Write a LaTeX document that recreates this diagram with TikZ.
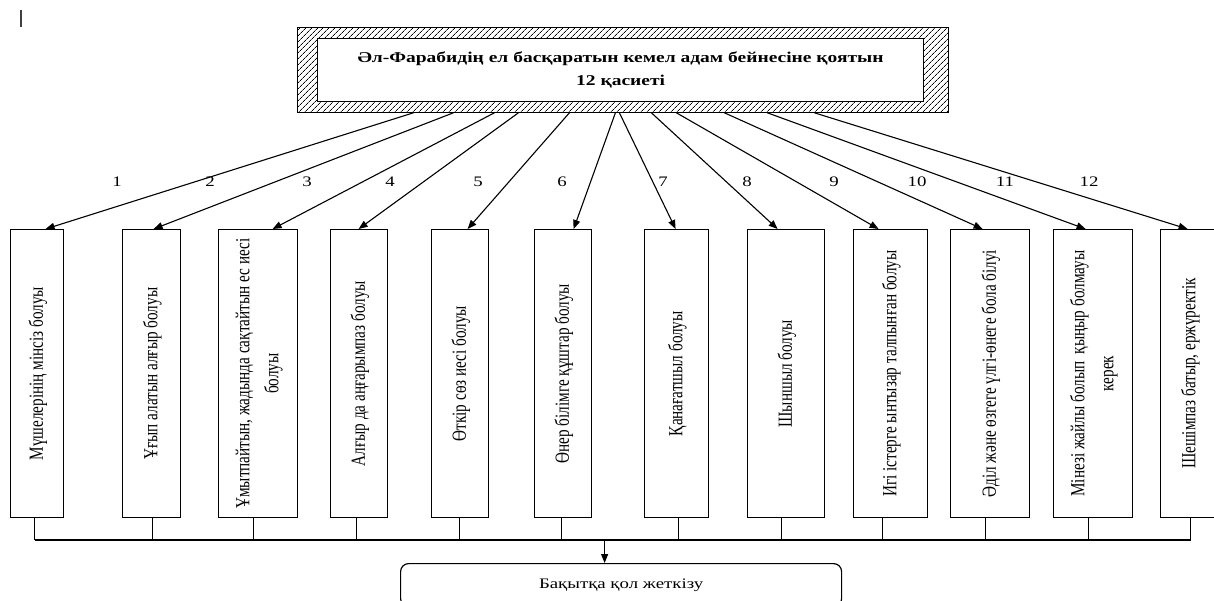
\documentclass[tikz,border=0pt]{standalone}
\usepackage{fontspec}
\usepackage{graphicx}
\setmainfont[FakeStretch=1.3]{Liberation Serif}
\newfontfamily\vfont[FakeStretch=0.76]{Liberation Serif}
\usetikzlibrary{patterns.meta,arrows.meta}
\newcommand\vtxt[1]{\rotatebox{90}{\vfont\fontsize{20}{29}\selectfont\begin{tabular}{@{}c@{}}#1\end{tabular}}}
\begin{document}
\begin{tikzpicture}[x=1pt,y=-1pt,
  vbox/.style={draw, line width=1.2pt, minimum height=288pt, inner sep=0pt, anchor=north west},
  arr/.style={line width=1.1pt, -{Triangle[length=9pt,width=7pt]}},
  num/.style={font=\fontsize{14.5}{16}\selectfont, inner sep=0pt},
  link/.style={line width=1.2pt}]
\useasboundingbox (0,0) rectangle (1214,600);
\clip (0,0) rectangle (1214,600);

% small mark top-left
\draw[line width=1.5pt, black!75] (21,10) -- (21,27);

% title frame
\node[draw, line width=1.2pt, pattern={Lines[angle=45,distance=4pt,line width=0.8pt]},
      minimum width=651pt, minimum height=85pt, inner sep=0pt, anchor=north west] (frame) at (297,27) {};
\node[draw, fill=white, line width=1.2pt, minimum width=606pt, minimum height=63pt, inner sep=0pt,
      anchor=north west, align=center, font=\bfseries\fontsize{15}{23}\selectfont] (title) at (317,38)
      {Әл-Фарабидің ел басқаратын кемел адам бейнесіне қоятын\\12 қасиеті};

% vertical boxes
\foreach \i/\l/\w/\t in {
  1/10/53/{Мүшелерінің мінсіз болуы},
  2/122/58/{Ұғып алатын алғыр болуы},
  3/218/79/{Ұмытпайтын, жадында сақтайтын ес иесі\\болуы},
  4/330/57/{Алғыр да аңғарымпаз болуы},
  5/431/57/{Өткір сөз иесі болуы},
  6/534/57/{Өнер білімге құштар болуы},
  7/644/64/{Қанағатшыл болуы},
  8/747/77/{Шыншыл болуы},
  9/853/74/{Игі істерге ынтызар талпынған болуы},
  10/950/79/{Әділ және өзгеге үлгі-өнеге бола білуі},
  11/1053/79/{Мінезі жайлы болып\ \ қыңыр болмауы\\керек},
  12/1160/58/{Шешімпаз батыр, ержүректік}}
  \node[vbox, minimum width=\w pt] (b\i) at (\l,229) {\vtxt{\t}};

% arrows from frame to boxes
\foreach \i/\s/\e in {1/-209.5/8.5, 2/-169.5/2, 3/-128.5/14.5, 4/-104.5/-0.5, 5/-53.5/7.5,
  6/-7.5/10.5, 7/-3.5/-1, 8/28.5/-8.5, 9/53.5/-12, 10/101.5/-7.5, 11/144.5/-7.5, 12/191.5/-2}
  \draw[arr] ([xshift=\s pt]frame.south) -- ([xshift=\e pt]b\i.north);

% numbers
\foreach \i/\x in {1/117, 2/210, 3/307, 4/390, 5/478, 6/562, 7/663, 8/747, 9/834, 10/917, 11/1005, 12/1089}
  \node[num] (n\i) at (\x,182) {\i};

% bus
\coordinate (busy) at (0,540);
\foreach \i/\s in {1/-2.5, 2/1, 3/-4.5, 4/-2.5, 5/-0.5, 6/-1.5, 7/2, 8/-4.5, 9/-8, 10/-4.5, 11/-4.5, 12/1} {
  \path ([xshift=\s pt]b\i.south) coordinate (u\i);
  \coordinate (t\i) at (u\i |- busy);
  \draw[link] (u\i) -- (t\i);
}
\draw[link] (t1) -- (t12);

% goal
\node[draw, rounded corners=8pt, line width=1.2pt, minimum width=441pt, minimum height=43pt, inner sep=0pt,
      anchor=north west, font=\fontsize{14.5}{16}\selectfont] (goal) at (400,563) {Бақытқа қол жеткізу};
\path ([xshift=-16.5pt]goal.north) coordinate (gin);
\coordinate (gout) at (gin |- busy);
\draw[arr] (gout) -- (gin);
\end{tikzpicture}
\end{document}
